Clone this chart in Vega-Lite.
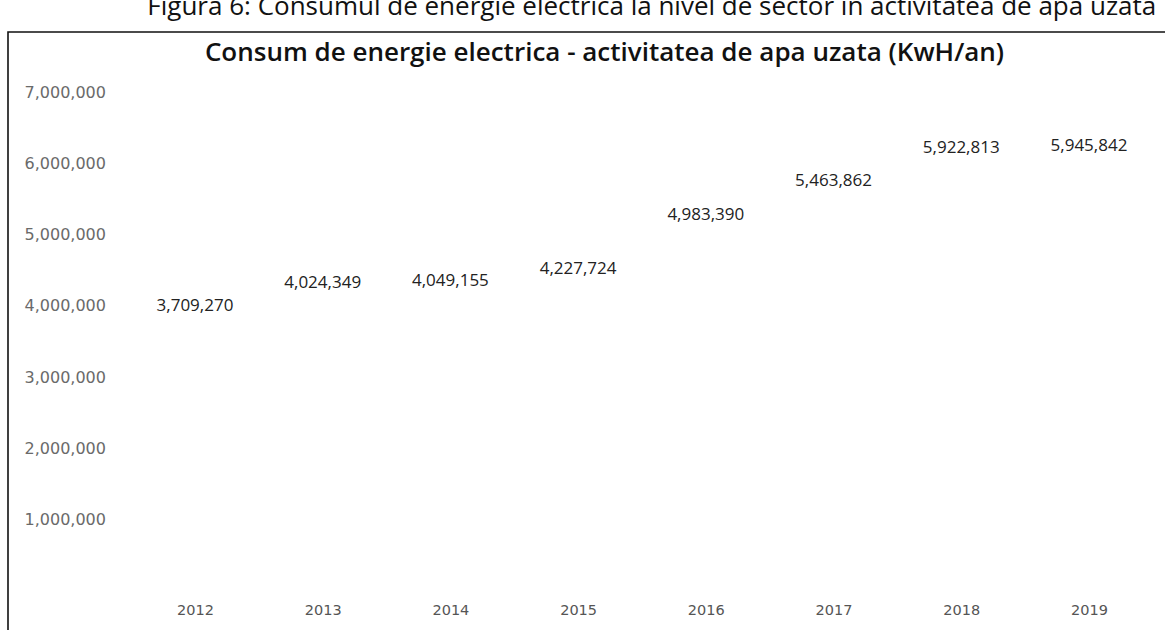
{
  "$schema": "https://vega.github.io/schema/vega-lite/v6.json",
  "autosize": {"type": "fit", "contains": "padding"},
  "width": 1165,
  "height": 630,
  "padding": {"top": -6, "left": 8, "right": -2, "bottom": -2},
  "background": "white",
  "title": {
    "text": "\u200b\u00a0\u00a0\u00a0\u00a0\u00a0\u00a0\u00a0\u00a0\u00a0\u00a0\u00a0\u00a0\u00a0\u00a0Figura 6: Consumul de energie electrica la nivel de sector in activitatea de apa uzata",
    "subtitle": "Consum de energie electrica - activitatea de apa uzata (KwH/an)",
    "anchor": "middle",
    "dx": 17,
    "font": "Open Sans",
    "fontSize": 26,
    "fontWeight": "normal",
    "color": "#111111",
    "subtitleFont": "Open Sans",
    "subtitleFontSize": 26,
    "subtitleFontWeight": 600,
    "subtitleColor": "#111111",
    "subtitlePadding": 20,
    "offset": -34
  },
  "config": {
    "view": {"stroke": "#111111", "strokeWidth": 1.6},
    "axis": {"grid": false, "domain": false, "ticks": false, "tickSize": 0, "title": null}
  },
  "data": {
    "values": [
      {"an": 2012, "consum": 3709270, "eticheta": "3,709,270"},
      {"an": 2013, "consum": 4024349, "eticheta": "4,024,349"},
      {"an": 2014, "consum": 4049155, "eticheta": "4,049,155"},
      {"an": 2015, "consum": 4227724, "eticheta": "4,227,724"},
      {"an": 2016, "consum": 4983390, "eticheta": "4,983,390"},
      {"an": 2017, "consum": 5463862, "eticheta": "5,463,862"},
      {"an": 2018, "consum": 5922813, "eticheta": "5,922,813"},
      {"an": 2019, "consum": 5945842, "eticheta": "5,945,842"}
    ]
  },
  "mark": {"type": "text", "font": "Open Sans", "fontSize": 17, "color": "#222222", "baseline": "middle", "dy": -21},
  "encoding": {
    "x": {
      "field": "an",
      "type": "quantitative",
      "scale": {"domain": [2010.536, 2019.611], "nice": false, "zero": false},
      "axis": {
        "values": [2012, 2013, 2014, 2015, 2016, 2017, 2018, 2019],
        "format": "d",
        "labelFont": "DejaVu Sans",
        "labelFontSize": 14.5,
        "labelColor": "#555555",
        "labelBaseline": "middle",
        "labelPadding": -22,
        "labelFlush": false,
        "labelOverlap": false
      }
    },
    "y": {
      "field": "consum",
      "type": "quantitative",
      "scale": {"domain": [-577000, 7845000], "nice": false, "zero": false},
      "axis": {
        "values": [1000000, 2000000, 3000000, 4000000, 5000000, 6000000, 7000000],
        "format": ",d",
        "labelFont": "DejaVu Sans",
        "labelFontSize": 16,
        "labelColor": "#6a6a6a",
        "labelAlign": "left",
        "labelBaseline": "middle",
        "labelPadding": -16,
        "labelFlush": false,
        "labelOverlap": false
      }
    },
    "text": {"field": "eticheta", "type": "nominal"}
  }
}
